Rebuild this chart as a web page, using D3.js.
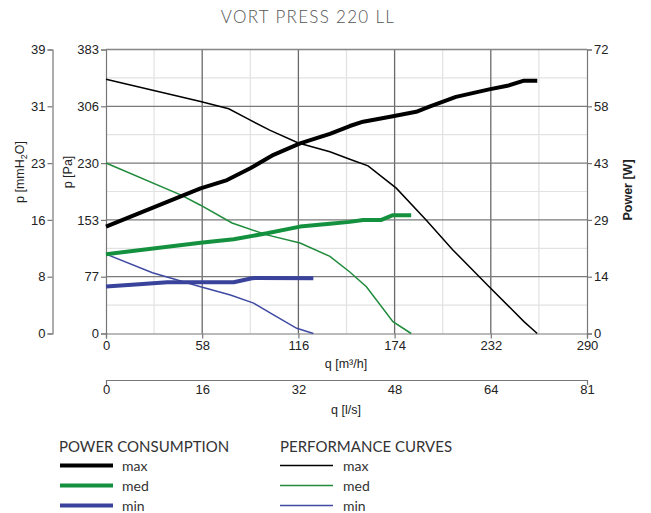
<!DOCTYPE html>
<html>
<head>
<meta charset="utf-8">
<script src="https://cdn.jsdelivr.net/npm/d3@7"></script>
<style>
  body { margin: 0; background: #fff; }
  .tick text { font-family: "Liberation Sans", Arial, sans-serif; font-size: 13px; fill: #222; }
  .lab { font-family: "Liberation Sans", Arial, sans-serif; font-size: 12.5px; fill: #222; }
  .leg { font-family: Lato, "Open Sans", sans-serif; fill: #333; }
</style>
</head>
<body>
<svg id="chart" width="651" height="513"></svg>
<script>
// performance curves: q [m3/h] -> p [Pa]
var perfMax = [[0,343],[57,313],[74,303],[85,290],[99,274],[116,257],[135,245],[147,235],[158,226],[175,196],[193,153],[209,113],[231,63],[244,34],[252,16],[260,0]];
var perfMed = [[0,230],[45,187],[57,173],[76,149],[97,133],[117,122],[135,104],[147,83],[157,63],[173,16],[184,0]];
var perfMin = [[0,107],[28,82],[57,63],[75,52],[89,41],[101,25],[115,7],[125,0]];

// power consumption: q [m3/h] -> P [W]
var powMax = [[0,27.1],[57,36.8],[73,38.9],[87,41.9],[101,45.3],[117,48.2],[135,50.6],[147,52.6],[155,53.7],[173,55.1],[187,56.2],[195,57.5],[211,60.0],[231,61.9],[242,62.8],[252,64.1],[260,64.1]];
var powMed = [[0,20.1],[57,23.0],[77,23.9],[97,25.4],[117,27.1],[135,27.8],[147,28.3],[155,28.8],[166,28.8],[173,30.0],[184,30.0]];
var powMin = [[0,11.9],[20,12.5],[37,13.0],[57,13.0],[77,13.0],[88,14.0],[91,14.1],[125,14.0]];

var qTicks = [0, 58, 116, 174, 232, 290];
var paTicks = [0, 76.6, 153.2, 229.8, 306.4, 383];
var paLabels = ["0", "77", "153", "230", "306", "383"];
var mmLabels = ["0", "8", "16", "23", "31", "39"];
var wTicks = [0, 14.4, 28.8, 43.2, 57.6, 72];
var wLabels = ["0", "14", "29", "43", "58", "72"];
var lsLabels = ["0", "16", "32", "48", "64", "81"];

var colors = {max: "#000000", med: "#14913f", min: "#3a439b"};
var thinColors = {max: "#000000", med: "#1f8b3b", min: "#3f4aa3"};

var svg = d3.select("#chart"),
    pLeft = 106, pRight = 587, pTop = 49.5, pBottom = 333.5;

var x = d3.scaleLinear().domain([0, 290]).range([pLeft, pRight]);
var y = d3.scaleLinear().domain([0, 383]).range([pBottom, pTop]);
var yW = d3.scaleLinear().domain([0, 72]).range([pBottom, pTop]);

// grid
var g = svg.append("g");
var minorQ = d3.range(29, 290, 58);
var minorP = paTicks.slice(1).map(function(d) { return d - 38.3; });
g.selectAll(".mx").data(minorQ).enter().append("line")
    .attr("x1", x).attr("x2", x).attr("y1", pTop).attr("y2", pBottom)
    .attr("stroke", "#e2e2e2").attr("stroke-width", 1.2);
g.selectAll(".my").data(minorP).enter().append("line")
    .attr("x1", pLeft).attr("x2", pRight).attr("y1", y).attr("y2", y)
    .attr("stroke", "#e2e2e2").attr("stroke-width", 1.2);
g.selectAll(".Mx").data(qTicks.slice(1, -1)).enter().append("line")
    .attr("x1", x).attr("x2", x).attr("y1", pTop).attr("y2", pBottom)
    .attr("stroke", "#6a6a6a").attr("stroke-width", 1.3);
g.selectAll(".My").data(paTicks.slice(1)).enter().append("line")
    .attr("x1", pLeft).attr("x2", pRight).attr("y1", y).attr("y2", y)
    .attr("stroke", "#7a7a7a").attr("stroke-width", 1.3);

function styleAxis(sel) {
  sel.selectAll("path, line").attr("stroke", "#777").attr("stroke-width", 1.2);
}

// axes
svg.append("g").attr("transform", "translate(0," + pBottom + ")")
    .call(d3.axisBottom(x).tickValues(qTicks).tickSize(5).tickPadding(2))
    .call(styleAxis);
svg.append("g").attr("transform", "translate(" + pLeft + ",0)")
    .call(d3.axisLeft(y).tickValues(paTicks).tickSize(5).tickPadding(2)
      .tickFormat(function(d, i) { return paLabels[i]; }))
    .call(styleAxis);
svg.append("g").attr("transform", "translate(" + pRight + ",0)")
    .call(d3.axisRight(yW).tickValues(wTicks).tickSize(5).tickPadding(2)
      .tickFormat(function(d, i) { return wLabels[i]; }))
    .call(styleAxis);

var yMm = d3.scaleLinear().domain([0, 383 / 9.81]).range([pBottom, pTop]);
svg.append("g").attr("transform", "translate(52.5,0)")
    .call(d3.axisLeft(yMm).tickValues(paTicks.map(function(d) { return d / 9.81; }))
      .tickSize(5).tickPadding(2).tickFormat(function(d, i) { return mmLabels[i]; }))
    .call(styleAxis);

var xLs = d3.scaleLinear().domain([0, 290 / 3.6]).range([pLeft, pRight]);
svg.append("g").attr("transform", "translate(0,380)")
    .call(d3.axisBottom(xLs).tickValues(qTicks.map(function(d) { return d / 3.6; }))
      .tickSizeInner(0).tickSizeOuter(5).tickPadding(5)
      .tickFormat(function(d, i) { return lsLabels[i]; }))
    .call(styleAxis);

// top border
svg.append("line").attr("x1", pLeft).attr("x2", pRight).attr("y1", pTop).attr("y2", pTop)
    .attr("stroke", "#888").attr("stroke-width", 1.2);

// axis titles
svg.append("text").attr("class", "lab").attr("x", 346).attr("y", 368)
    .attr("text-anchor", "middle").text("q [m³/h]");
svg.append("text").attr("class", "lab").attr("x", 346).attr("y", 414)
    .attr("text-anchor", "middle").text("q [l/s]");
svg.append("text").attr("class", "lab").attr("transform", "translate(72,172) rotate(-90)")
    .attr("text-anchor", "middle").text("p [Pa]");
var mm = svg.append("text").attr("class", "lab").attr("transform", "translate(24,172) rotate(-90)")
    .attr("text-anchor", "middle");
mm.append("tspan").text("p [mmH");
mm.append("tspan").attr("font-size", "9px").attr("dy", 3).text("2");
mm.append("tspan").attr("dy", -3).text("O]");
svg.append("text").attr("class", "lab").attr("transform", "translate(632,190) rotate(-90)")
    .attr("text-anchor", "middle").attr("font-weight", "bold").text("Power [W]");

// title
svg.append("text").attr("class", "leg").attr("x", 308).attr("y", 23)
    .attr("text-anchor", "middle").attr("font-size", "17px").attr("letter-spacing", "1.3px")
    .style("fill", "#555").attr("font-weight", 300).text("VORT PRESS 220 LL");

// curves
var linePa = d3.line().x(function(d) { return x(d[0]); }).y(function(d) { return y(d[1]); });
var lineW = d3.line().x(function(d) { return x(d[0]); }).y(function(d) { return yW(d[1]); });

var perf = [["max", perfMax], ["med", perfMed], ["min", perfMin]];
var pow = [["max", powMax], ["med", powMed], ["min", powMin]];

svg.selectAll(".perf").data(perf).enter().append("path")
    .attr("d", function(d) { return linePa(d[1]); })
    .attr("fill", "none").attr("stroke", function(d) { return thinColors[d[0]]; })
    .attr("stroke-width", 1.5);
svg.selectAll(".pow").data(pow).enter().append("path")
    .attr("d", function(d) { return lineW(d[1]); })
    .attr("fill", "none").attr("stroke", function(d) { return colors[d[0]]; })
    .attr("stroke-width", 4).attr("stroke-linejoin", "round");

// legend
var names = ["max", "med", "min"];
svg.append("text").attr("class", "leg").attr("x", 59).attr("y", 452)
    .attr("font-size", "15px").text("POWER CONSUMPTION");
svg.append("text").attr("class", "leg").attr("x", 280).attr("y", 452)
    .attr("font-size", "15px").text("PERFORMANCE CURVES");
names.forEach(function(n, i) {
  var yy = 465.5 + i * 20;
  svg.append("line").attr("x1", 60).attr("x2", 113).attr("y1", yy).attr("y2", yy)
      .attr("stroke", colors[n]).attr("stroke-width", 4);
  svg.append("text").attr("class", "leg").attr("x", 122).attr("y", yy + 5)
      .attr("font-size", "14px").text(n);
  svg.append("line").attr("x1", 280).attr("x2", 333).attr("y1", yy).attr("y2", yy)
      .attr("stroke", thinColors[n]).attr("stroke-width", 1.5);
  svg.append("text").attr("class", "leg").attr("x", 343).attr("y", yy + 5)
      .attr("font-size", "14px").text(n);
});
</script>
</body>
</html>
